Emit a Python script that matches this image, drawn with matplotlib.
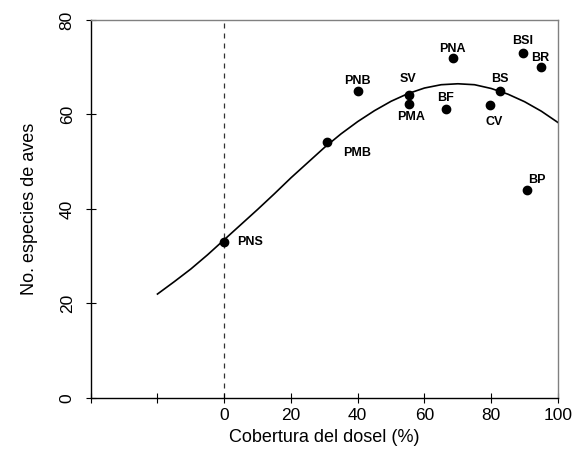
"""
plot.py - bird species richness vs canopy cover (scatter + fitted curve)
"""

import matplotlib
matplotlib.use('Agg')
import matplotlib.pyplot as plt

plt.rcParams['font.family'] = ['Liberation Sans', 'DejaVu Sans']

# sites: canopy cover (%) and number of bird species
sites = ['PNS', 'PMB', 'PNB', 'SV', 'PMA', 'PNA', 'BF', 'CV', 'BS', 'BSI', 'BR', 'BP']
cover = [0, 30.7, 40.0, 55.4, 55.4, 68.4, 66.3, 79.7, 82.6, 89.4, 94.8, 90.7]
species = [33, 54.1, 65.0, 64.1, 62.2, 71.9, 61.1, 62.1, 65.0, 73.1, 70.0, 44.0]

# fitted curve
curve_x = [-20, -15, -10, -5, 0, 5, 10, 15, 20, 25, 30, 35, 40, 45,
           50, 55, 60, 65, 70, 75, 80, 85, 90, 95, 100]
curve_y = [22.0, 24.6, 27.3, 30.3, 33.5, 36.7, 39.9, 43.2, 46.6, 49.8,
           53.0, 55.9, 58.5, 60.8, 62.8, 64.4, 65.6, 66.3, 66.5, 66.3,
           65.5, 64.3, 62.7, 60.7, 58.3]

x_ticks = [-40, -20, 0, 20, 40, 60, 80, 100]
x_ticklabels = ['', '', '0', '20', '40', '60', '80', '100']
y_ticks = [0, 20, 40, 60, 80]

# label offsets in points (dx, dy) and alignment
label_pos = {
    'PNS': (9, 0, 'left', 'center'),
    'PMB': (11.5, -7.5, 'left', 'center'),
    'PNB': (0, 7, 'center', 'center'),
    'SV': (-1, 11.5, 'center', 'center'),
    'PMA': (1.5, -9.5, 'center', 'center'),
    'PNA': (0, 7, 'center', 'center'),
    'BF': (0, 8, 'center', 'center'),
    'CV': (3, -12.5, 'center', 'center'),
    'BS': (0, 8.5, 'center', 'center'),
    'BSI': (0, 8, 'center', 'center'),
    'BR': (0, 7, 'center', 'center'),
    'BP': (7, 7, 'center', 'center'),
}

fig = plt.figure(figsize=(5.72, 4.49), dpi=100)
ax = fig.add_axes([0.1586, 0.1136, 0.8169, 0.8419])

ax.axvline(0, color='#333333', linestyle=(0, (4, 4)), linewidth=0.9, zorder=1)
ax.plot(curve_x, curve_y, color='black', linewidth=1.2, zorder=2)
ax.plot(cover, species, 'o', color='black', markersize=6, zorder=3)

for name, x, y in zip(sites, cover, species):
    dx, dy, ha, va = label_pos[name]
    ax.annotate(name, (x, y), xytext=(dx, dy), textcoords='offset points',
                ha=ha, va=va, fontsize=9, fontweight='bold')

ax.set_xlim(-40, 100)
ax.set_ylim(0, 80)
ax.set_xticks(x_ticks)
ax.set_xticklabels(x_ticklabels)
ax.set_yticks(y_ticks)
ax.set_yticklabels([str(v) for v in y_ticks], rotation=90, va='center')

ax.tick_params(axis='x', direction='inout', length=7, labelsize=12.5, pad=4)
ax.tick_params(axis='y', direction='inout', length=7, labelsize=12.5, pad=8)

for side in ['top', 'right']:
    ax.spines[side].set_color('#808080')
    ax.spines[side].set_linewidth(1.0)
for side in ['left', 'bottom']:
    ax.spines[side].set_linewidth(1.0)

ax.set_xlabel('Cobertura del dosel (%)', fontsize=13, labelpad=4)
ax.set_ylabel('No. especies de aves', fontsize=13, labelpad=16)

fig.savefig('out.png', dpi=100)
